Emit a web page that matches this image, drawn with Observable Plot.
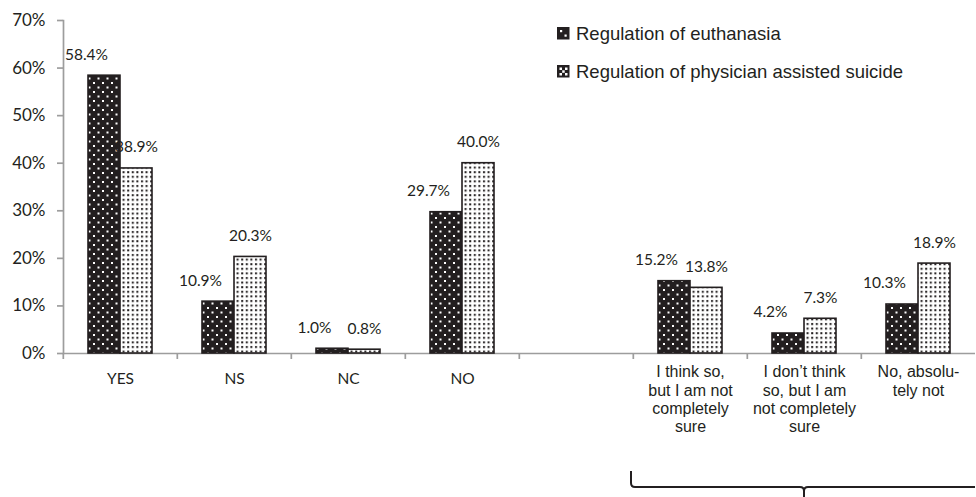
<!DOCTYPE html>
<html><head><meta charset="utf-8">
<script src="https://cdn.jsdelivr.net/npm/d3@7"></script>
<script src="https://cdn.jsdelivr.net/npm/@observablehq/plot@0.6"></script>
<style>
body{margin:0;background:#fff}
#wrap{position:relative;width:976px;height:497px}
#legend{position:absolute;left:0;top:0;pointer-events:none}
</style></head><body>
<div id="wrap"></div>
<script>
// ---- data ----
const categories = ["YES","NS","NC","NO"," ",
  "I think so,\nbut I am not\ncompletely\nsure",
  "I don\u2019t think\nso, but I am\nnot completely\nsure",
  "No, absolu-\ntely not"];
const leftCategories = ["YES","NS","NC","NO"];
const rightCategories = categories.slice(5);
const series = ["Regulation of euthanasia","Regulation of physician assisted suicide"];
const euthanasia = [0.584,0.109,0.010,0.297,null,0.152,0.042,0.103];
const assisted   = [0.389,0.203,0.008,0.400,null,0.138,0.073,0.189];
const yTicks = [0,0.1,0.2,0.3,0.4,0.5,0.6,0.7];

// long table (the blank category keeps null values so its facet is not "empty")
const rows = [];
categories.forEach((c,i)=>{
  rows.push({category:c, series:series[0], value:euthanasia[i]});
  rows.push({category:c, series:series[1], value:assisted[i]});
});
const rowsE = rows.filter(d=>d.series===series[0]);
const rowsP = rows.filter(d=>d.series===series[1]);

// ---- layout/style ----
const W=976,H=497,mL=61,mR=0,mT=20,mB=144;
const step=(W-mL-mR)/categories.length;
const gray="#9d9d9d", ink="#231f20";
const gill="Lato, 'Open Sans', sans-serif", helv="'Liberation Sans', Arial, sans-serif";
const pct=d3.format(".1%");
const lab = d => d.value==null ? null : pct(d.value);

const plot = Plot.plot({
  width:W, height:H, marginLeft:mL, marginRight:mR, marginTop:mT, marginBottom:mB,
  style:{background:"transparent", color:ink, overflow:"visible"},
  fx:{domain:categories, padding:0, axis:null},
  x:{domain:series, paddingInner:0, paddingOuter:0.76, axis:null},
  y:{domain:[0,0.7], axis:null},
  marks:[
    Plot.ruleY([0],{stroke:gray, strokeWidth:1.7}),
    Plot.frame({anchor:"left", stroke:gray, strokeWidth:1.7, facetAnchor:"left"}),
    Plot.axisY({ticks:yTicks, tickFormat:d3.format(".0%"), tickSize:6, tickPadding:12,
      stroke:gray, strokeWidth:1.7, fontSize:17, fontFamily:gill, label:null}),
    Plot.axisFx({anchor:"bottom", tickSize:6, fill:"none", dx:-step/2, stroke:gray, strokeWidth:1.7, label:null}),
    Plot.axisFx({anchor:"bottom", ticks:leftCategories, tickSize:0, tickPadding:19.5,
      fontSize:15.5, fontFamily:gill, label:null}),
    Plot.axisFx({anchor:"bottom", ticks:rightCategories, tickSize:0, tickPadding:11,
      fontSize:16, fontFamily:helv, lineHeight:1.14, label:null}),
    Plot.barY(rowsE,{fx:"category", x:"series", y:"value", fill:"url(#patDark)", stroke:ink, strokeWidth:1.6}),
    Plot.barY(rowsP,{fx:"category", x:"series", y:"value", fill:"url(#patLight)", stroke:ink, strokeWidth:1.6}),
    Plot.text(rowsE,{fx:"category", x:"series", y:"value", text:lab, dy:-21, dx:-18,
      fontSize:15.5, fontFamily:gill, fill:ink}),
    Plot.text(rowsP,{fx:"category", x:"series", y:"value", text:lab, dy:-21,
      fontSize:15.5, fontFamily:gill, fill:ink})
  ]
});

// patterns
const svg = d3.select(plot.tagName==="svg"?plot:plot.querySelector("svg"));
const defs = svg.insert("defs",":first-child");
const pd = defs.append("pattern").attr("id","patDark").attr("patternUnits","userSpaceOnUse")
  .attr("width",9).attr("height",9);
pd.append("rect").attr("width",9).attr("height",9).attr("fill",ink);
pd.append("rect").attr("x",1).attr("y",1).attr("width",2).attr("height",2).attr("fill","#fff");
pd.append("rect").attr("x",5.5).attr("y",5.5).attr("width",2).attr("height",2).attr("fill","#fff");
const pl = defs.append("pattern").attr("id","patLight").attr("patternUnits","userSpaceOnUse")
  .attr("width",4.6).attr("height",4.6);
pl.append("rect").attr("width",4.6).attr("height",4.6).attr("fill","#fff");
pl.append("rect").attr("x",1).attr("y",1).attr("width",2).attr("height",2).attr("fill",ink);

// bracket spanning the right-hand group, positioned with the fx scale
const fx = plot.scale("fx");
const bw = fx.bandwidth;
const x0 = fx.apply(rightCategories[0]) - 2;
const x1 = fx.apply(rightCategories[2]) + bw;
const xm = fx.apply(rightCategories[1]) + bw/2;
const yb = 487;
svg.append("path")
  .attr("d",`M${x0},${yb-16} L${x0},${yb-4} Q${x0},${yb} ${x0+4},${yb} L${xm-4},${yb} Q${xm},${yb} ${xm},${yb+4} L${xm},${yb+10} M${xm},${yb+4} Q${xm},${yb} ${xm+4},${yb} L${x1},${yb}`)
  .attr("fill","none").attr("stroke",ink).attr("stroke-width",2);

document.getElementById("wrap").appendChild(plot);

// legend overlay
const lg = d3.select("#wrap").append("svg").attr("id","legend").attr("width",W).attr("height",100);
const items = [{label:series[0], y:27},{label:series[1], y:65}];
items.forEach((it,i)=>{
  const g = lg.append("g");
  g.append("rect").attr("x",557).attr("y",it.y).attr("width",12.5).attr("height",12.5).attr("fill",ink);
  if (i===0){
    [[560,30],[564.5,34.5]].forEach(([a,b])=>g.append("rect").attr("x",a).attr("y",b).attr("width",2.2).attr("height",2.2).attr("fill","#fff"));
  } else {
    [[559.5,67.5],[565,67.5],[562.2,70.3],[559.5,73],[565,73]].forEach(([a,b])=>g.append("rect").attr("x",a).attr("y",b).attr("width",2.5).attr("height",2.5).attr("fill","#fff"));
  }
  g.append("text").attr("x",576).attr("y",it.y+13).attr("font-family",helv).attr("font-size",18.5)
    .attr("fill",ink).text(it.label);
});
</script>
</body></html>
